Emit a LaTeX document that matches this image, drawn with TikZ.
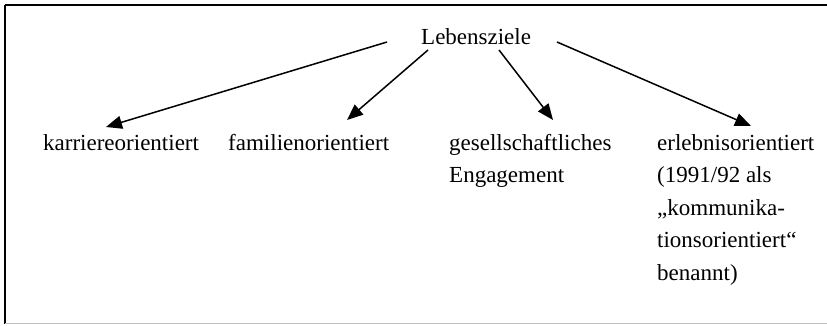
\documentclass[tikz,border=0pt]{standalone}
\usepackage{fontspec}
\setmainfont{Liberation Serif}
\usetikzlibrary{arrows.meta}
\tikzset{
  lbl/.style={anchor=base west, inner sep=0pt, font=\fontsize{23}{32.5}\selectfont},
  goal/.style={line width=1.5pt, -{Triangle[length=16pt,width=13pt]}},
  frameline/.style={line width=1.4pt, black},
}
\begin{document}
\begin{tikzpicture}[x=1pt,y=-1pt]
  \useasboundingbox (0,0) rectangle (827,325);
  % open frame: top and left dark, bottom light
  \draw[frameline] (5,5) -- (827,5);
  \draw[frameline] (5,5) -- (5,324);
  \draw[line width=0.9pt, black!25] (5,323) -- (827,323);

  % labels
  \node[lbl] (root) at (421,44) {Lebensziele};
  \node[lbl] (kar) at (43,150) {karriereorientiert};
  \node[lbl] (fam) at (228,150) {familienorientiert};
  \node[lbl] (ges) at (449,150) {\begin{tabular}[t]{@{}l@{}}gesellschaftliches\\Engagement\end{tabular}};
  \node[lbl] (erl) at (657,150) {\begin{tabular}[t]{@{}l@{}}erlebnisorientiert\\(1991/92 als\\„kommunika-\\tionsorientiert“\\benannt)\end{tabular}};

  % connector end points
  \coordinate (s1) at (387,42);
  \coordinate (s2) at (428,50);
  \coordinate (s3) at (499,50);
  \coordinate (s4) at (557,42);
  \coordinate (t1) at (106,127);
  \coordinate (t2) at (347,120);
  \coordinate (t3) at (553,120);
  \coordinate (t4) at (751,126);

  \draw[goal] (s1) -- (t1);
  \draw[goal] (s2) -- (t2);
  \draw[goal] (s3) -- (t3);
  \draw[goal] (s4) -- (t4);
\end{tikzpicture}
\end{document}
